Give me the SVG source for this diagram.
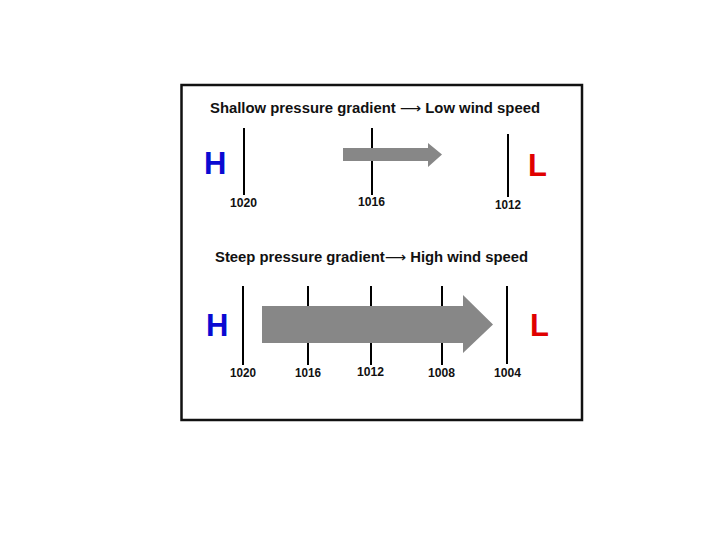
<svg xmlns="http://www.w3.org/2000/svg" width="720" height="540" viewBox="0 0 720 540">
<style>
.t{font-family:"Liberation Sans",Arial,"DejaVu Sans",sans-serif;font-weight:bold;fill:#111;}
.title{font-size:14px;}
.num{font-size:12px;}
.iso{stroke:#000;stroke-width:2;fill:none;}
.arrow{fill:#878787;}
.H{font-family:"Liberation Sans",Arial,sans-serif;font-weight:bold;font-size:31px;fill:#0a0ad2;}
.L{font-family:"Liberation Sans",Arial,sans-serif;font-weight:bold;font-size:31px;fill:#e00000;}
.ar{font-family:"DejaVu Sans",sans-serif;font-weight:normal;}
</style>
<rect x="0" y="0" width="720" height="540" fill="#fff"/>
<rect id="frame" x="181.5" y="85" width="400.5" height="335" fill="#fff" stroke="#111" stroke-width="2.5"/>
<g id="shallow">
<text class="t title" x="210" y="113" textLength="330" lengthAdjust="spacingAndGlyphs">Shallow pressure gradient <tspan class="ar">⟶</tspan> Low wind speed</text>
<text class="H" x="204" y="174">H</text>
<text class="L" x="528" y="176">L</text>
<g id="isobars-top">
<line class="iso" x1="244" y1="128" x2="244" y2="195"/>
<line class="iso" x1="372" y1="128" x2="372" y2="195"/>
<line class="iso" x1="508" y1="134" x2="508" y2="197"/>
</g>
<path id="arrow-top" class="arrow" d="M343 148 H428 V143 L442 154.5 L428 167 V161 H343 Z"/>
<text class="t num" x="230" y="207" textLength="27" lengthAdjust="spacingAndGlyphs">1020</text>
<text class="t num" x="358" y="206" textLength="27" lengthAdjust="spacingAndGlyphs">1016</text>
<text class="t num" x="495" y="209" textLength="26" lengthAdjust="spacingAndGlyphs">1012</text>
</g>
<g id="steep">
<text class="t title" x="215" y="262" textLength="313" lengthAdjust="spacingAndGlyphs">Steep pressure gradient<tspan class="ar">⟶</tspan> High wind speed</text>
<text class="H" x="206" y="336">H</text>
<text class="L" x="530" y="336">L</text>
<g id="isobars-bottom">
<line class="iso" x1="243" y1="286" x2="243" y2="365"/>
<line class="iso" x1="308" y1="286" x2="308" y2="365"/>
<line class="iso" x1="371" y1="286" x2="371" y2="365"/>
<line class="iso" x1="442" y1="286" x2="442" y2="365"/>
<line class="iso" x1="507" y1="286" x2="507" y2="364"/>
</g>
<path id="arrow-bottom" class="arrow" d="M262 306 H463 V295 L493 324.5 L463 353 V343 H262 Z"/>
<text class="t num" x="230" y="377" textLength="26" lengthAdjust="spacingAndGlyphs">1020</text>
<text class="t num" x="295" y="377" textLength="26" lengthAdjust="spacingAndGlyphs">1016</text>
<text class="t num" x="357" y="376" textLength="27" lengthAdjust="spacingAndGlyphs">1012</text>
<text class="t num" x="428" y="377" textLength="27" lengthAdjust="spacingAndGlyphs">1008</text>
<text class="t num" x="494" y="377" textLength="27" lengthAdjust="spacingAndGlyphs">1004</text>
</g>
</svg>
